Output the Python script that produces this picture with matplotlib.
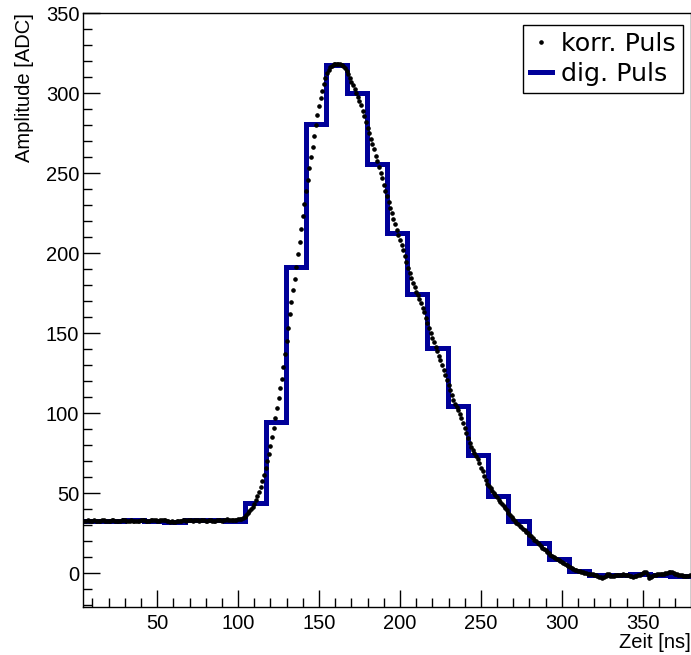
import matplotlib
matplotlib.use('Agg')
import matplotlib.pyplot as plt  # Графики
import numpy as np

# Содержимое бинов (оцифрованный импульс, шаг 12.5 нс)
bin_start = 4.5
bin_width = 12.5
dig_puls = [32.5, 32.5, 33.0, 32.5, 32.0, 33.0, 33.0, 32.5,
            44.0, 94.5, 191.5, 281.0, 317.5, 300.0, 256.0, 212.5,
            174.5, 140.5, 104.8, 73.8, 48.4, 32.4, 18.8, 9.0,
            1.6, -1.0, -1.1, -0.8, -1.0, -1.5]

# Скорректированный импульс, шаг 1 нс, начиная с 5 нс
zeit_start = 5
korr_puls = [
    32.6, 32.9, 33.1, 32.8, 32.5, 32.7, 33.0, 32.9, 32.6, 32.4,
    32.7, 33.0, 33.2, 32.9, 32.6, 32.5, 32.8, 33.1, 33.0, 32.7,
    32.4, 32.6, 32.9, 33.2, 33.3, 33.0, 32.7, 32.5, 32.8, 33.1,
    32.9, 32.6, 32.3, 32.5, 32.9, 33.2, 33.4, 33.1, 32.8, 32.6,
    32.9, 33.2, 33.4, 33.3, 33.0, 32.7, 32.9, 33.2, 33.5, 33.3,
    33.0, 32.6, 32.3, 32.1, 32.4, 32.2, 32.0, 32.3, 32.6, 32.4,
    32.7, 33.0, 33.2, 32.9, 33.1, 33.4, 33.2, 32.9, 33.1, 33.3,
    33.0, 32.8, 33.1, 33.4, 33.2, 32.9, 32.7, 33.0, 33.2, 32.9,
    32.6, 32.8, 33.1, 33.3, 33.0, 32.8, 33.1, 33.4, 33.6, 33.3,
    33.1, 33.3, 33.2, 33.4, 33.5, 33.6, 33.7, 33.9, 34.4, 35.0,
    36.2, 37.4, 38.6, 40.0, 41.6, 43.5, 45.6, 48.0, 50.8, 54.0,
    57.8, 61.5, 65.5, 69.8, 74.5, 79.5, 85.0, 91.0, 97.2, 103.5,
    109.5, 115.5, 121.5, 129.0, 137.0, 145.0, 153.5, 162.0, 169.5, 177.0,
    184.0, 191.5, 199.5, 207.0, 215.0, 223.0, 231.0, 239.0, 246.0, 253.0,
    260.0, 266.5, 273.0, 280.0, 286.5, 292.0, 297.0, 301.5, 305.5, 309.5,
    312.5, 314.8, 316.3, 317.3, 318.0, 318.4, 318.6, 318.5, 318.2, 317.6,
    316.8, 315.6, 314.0, 312.0, 309.8, 307.3, 305.0, 302.6, 300.0, 297.5,
    295.0, 292.5, 289.0, 285.6, 282.0, 278.4, 275.0, 271.6, 268.3, 265.0,
    261.0, 257.5, 253.8, 250.3, 246.9, 242.5, 239.0, 235.5, 232.0, 228.5,
    225.0, 221.5, 218.0, 214.8, 211.6, 208.4, 205.2, 202.0, 198.5, 194.5,
    191.0, 187.6, 184.3, 181.5, 178.6, 176.0, 174.0, 171.5, 169.0, 166.0,
    163.0, 159.8, 156.6, 153.5, 150.4, 147.3, 144.5, 141.6, 138.8, 136.0,
    133.3, 130.2, 127.0, 123.9, 120.8, 117.6, 114.6, 111.5, 108.5, 105.6,
    104.0, 102.0, 99.8, 96.9, 93.8, 90.6, 87.8, 84.7, 81.5, 79.1,
    76.8, 75.0, 73.5, 71.3, 68.8, 65.9, 63.6, 60.6, 58.5, 56.0,
    54.5, 53.0, 51.5, 50.0, 48.6, 47.3, 46.0, 44.7, 43.4, 42.1,
    40.8, 39.3, 37.8, 36.3, 35.0, 33.8, 32.7, 31.6, 30.6, 29.6,
    28.8, 27.9, 26.9, 26.0, 25.0, 24.0, 23.0, 22.0, 21.0, 20.0,
    19.0, 18.0, 17.0, 16.0, 15.1, 14.2, 13.4, 12.5, 11.6, 10.8,
    10.0, 9.3, 8.7, 8.1, 7.4, 6.8, 6.1, 5.5, 4.9, 4.3,
    3.6, 3.1, 2.6, 2.1, 1.7, 1.4, 1.1, 0.8, 0.5, 0.2,
    0.0, -0.3, -0.5, -0.8, -0.4, -0.9, -1.4, -1.9, -2.3, -2.6,
    -3.0, -2.6, -1.7, -0.5, -0.8, -1.5, -2.0, -1.8, -1.3, -1.0,
    -0.9, -1.2, -1.0, -0.6, -0.9, -1.3, -1.1, -1.6, -2.0, -2.2,
    -1.9, -1.5, -1.2, -1.0, -0.6, 0.0, 0.6, 1.0, -1.0, -3.0,
    -2.6, -1.9, -1.4, -1.0, -0.7, -0.5, -0.6, -0.8, -0.4, 0.0,
    0.3, 0.5, 0.6, 0.4, 0.2, -0.3, -0.6, -0.9, -1.0, -1.2,
    -1.5, -1.8, -2.0, -1.7, -1.4,
]

edges = bin_start + bin_width * np.arange(len(dig_puls) + 1)
zeit = zeit_start + np.arange(len(korr_puls))

fig = plt.figure(figsize=(6.91, 6.55), dpi=100)
ax = fig.add_axes([0.1208, 0.0737, 0.8785, 0.906])

# Гистограмма (толстая синяя ступенька) и точки поверх
ax.stairs(dig_puls, edges, baseline=None, color='#000099', linewidth=3.6,
          label='dig. Puls', zorder=2)
ax.plot(zeit, korr_puls, linestyle='none', marker='o', markersize=2.3,
        color='black', label='korr. Puls', zorder=3)

ax.set_xlim(edges[0], edges[-1])
ax.set_ylim(-21, 350)

# Деления как в ROOT
ax.set_xticks(np.arange(50, 351, 50))
ax.set_xticks(np.arange(10, 380, 10), minor=True)
ax.set_yticks(np.arange(0, 351, 50))
ax.set_yticks(np.arange(-20, 351, 10), minor=True)
ax.tick_params(which='both', direction='in', top=False, right=False, width=1)
ax.tick_params(which='major', length=12.5)
ax.tick_params(which='minor', length=6.5)
ax.tick_params(axis='x', pad=5)
ax.tick_params(axis='y', pad=3)
for lab in ax.get_xticklabels() + ax.get_yticklabels():
    lab.set_fontfamily('Liberation Sans')
    lab.set_fontsize(14.5)

for sp in ax.spines.values():
    sp.set_color('black')
    sp.set_linewidth(1)

ax.set_xlabel('Zeit [ns]', loc='right', fontfamily='Liberation Sans', fontsize=14.5)
ax.xaxis.set_label_coords(1.0, -0.044)
ax.set_ylabel('Amplitude [ADC]', loc='top', fontfamily='Liberation Sans', fontsize=14.5)
ax.yaxis.set_label_coords(-0.081, 1.0)

# Легенда: сначала точки, потом гистограмма
h, l = ax.get_legend_handles_labels()
leg = ax.legend(h[::-1], l[::-1], loc='upper right', bbox_to_anchor=(0.988, 0.981),
                borderaxespad=0, fancybox=False, framealpha=1, edgecolor='black',
                prop={'family': 'DejaVu Sans', 'size': 18.3}, handlelength=0.85,
                handletextpad=0.35, borderpad=0.3, labelspacing=0.22, markerscale=1.0)
leg.get_frame().set_linewidth(1)

plt.savefig('out.png', dpi=100)
plt.close()
